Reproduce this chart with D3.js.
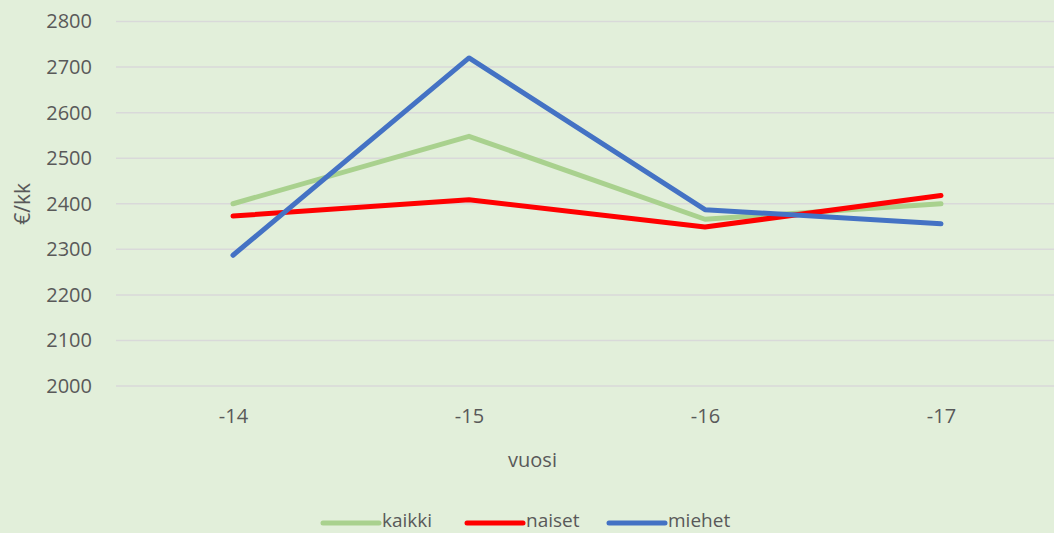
<!DOCTYPE html>
<html>
<head>
<meta charset="utf-8">
<script src="https://cdn.jsdelivr.net/npm/d3@7"></script>
<style>
  html, body { margin: 0; padding: 0; background: #E2EFDA; }
  svg { display: block; }
  text { font-family: "Open Sans", "Noto Sans", sans-serif; fill: #595959; }
</style>
</head>
<body>
<div id="chart"></div>
<script>
    // data
    const years = ["-14", "-15", "-16", "-17"];
    const kaikki = [2400, 2548, 2366, 2400];
    const naiset = [2373, 2409, 2349, 2418];
    const miehet = [2287, 2720, 2387, 2356];
    const yTicks = [2000, 2100, 2200, 2300, 2400, 2500, 2600, 2700, 2800];

    const series = [
        {name: "kaikki", values: kaikki, color: "#A9D18E"},
        {name: "naiset", values: naiset, color: "#FF0000"},
        {name: "miehet", values: miehet, color: "#4472C4"}
    ];

    const width = 1054, height = 533;
    const margin = {top: 21.5, right: -5, bottom: 147, left: 115};

    const svg = d3.select("#chart")
        .append("svg")
        .attr("width", width)
        .attr("height", height);

    const x = d3.scalePoint()
        .domain(years)
        .range([margin.left, width - margin.right])
        .padding(0.5);

    const y = d3.scaleLinear()
        .domain([2000, 2800])
        .range([height - margin.bottom, margin.top]);

    // gridlines
    svg.append("g")
        .selectAll("line")
        .data(yTicks)
        .join("line")
        .attr("x1", margin.left + 1)
        .attr("x2", width)
        .attr("y1", d => y(d))
        .attr("y2", d => y(d))
        .attr("stroke", "#D9D9D9")
        .attr("stroke-width", 1.5);

    // y axis labels
    const yAxis = svg.append("g")
        .attr("transform", "translate(" + (margin.left - 23) + ",0)")
        .call(d3.axisLeft(y).tickValues(yTicks).tickFormat(d3.format("d")).tickSize(0).tickPadding(0));
    yAxis.select(".domain").remove();
    yAxis.selectAll("text")
        .attr("font-size", 20)
        .attr("font-family", null)
        .attr("fill", null);

    // x axis labels
    const xAxis = svg.append("g")
        .attr("transform", "translate(0," + (y(2000) + 32) + ")")
        .call(d3.axisBottom(x).tickSize(0).tickPadding(0));
    xAxis.select(".domain").remove();
    xAxis.selectAll("text")
        .attr("font-size", 20)
        .attr("font-family", null)
        .attr("fill", null)
        .attr("dy", "0")
        .attr("dominant-baseline", "middle");

    // axis titles
    svg.append("text")
        .attr("x", (margin.left + width) / 2 - 52)
        .attr("y", 462)
        .attr("text-anchor", "middle")
        .attr("dominant-baseline", "middle")
        .attr("font-size", 20)
        .text("vuosi");

    svg.append("text")
        .attr("transform", "translate(24," + y(2400) + ") rotate(-90)")
        .attr("text-anchor", "middle")
        .attr("dominant-baseline", "middle")
        .attr("font-size", 21)
        .text("€/kk");

    // lines
    const line = d3.line()
        .x((d, i) => x(years[i]))
        .y(d => y(d));

    svg.append("g")
        .selectAll("path")
        .data(series)
        .join("path")
        .attr("d", d => line(d.values))
        .attr("fill", "none")
        .attr("stroke", d => d.color)
        .attr("stroke-width", 5)
        .attr("stroke-linecap", "round")
        .attr("stroke-linejoin", "round");

    // legend
    const legendX = [323, 467, 609];
    const legend = svg.append("g")
        .selectAll("g")
        .data(series)
        .join("g")
        .attr("transform", (d, i) => "translate(" + legendX[i] + ",523)");
    legend.append("line")
        .attr("x1", 0)
        .attr("x2", 56)
        .attr("stroke", d => d.color)
        .attr("stroke-width", 5)
        .attr("stroke-linecap", "round");
    legend.append("text")
        .attr("x", 59)
        .attr("y", -1)
        .attr("dominant-baseline", "middle")
        .attr("font-size", 19)
        .text(d => d.name);
</script>
</body>
</html>
